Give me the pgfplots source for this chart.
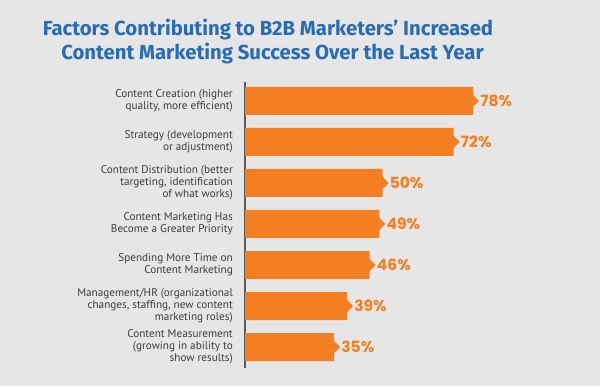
\documentclass[border=0pt]{standalone}
\usepackage{fontspec}
\setmainfont{PT Sans}
\newfontfamily\titlefont{Fira Sans}
\newfontfamily\valfont{Poppins}
\usepackage{pgfplots}
\pgfplotsset{compat=1.18}
\definecolor{bg}{RGB}{230,230,230}
\definecolor{barorange}{RGB}{244,127,35}
\definecolor{titleblue}{RGB}{40,108,180}
\definecolor{labelgray}{RGB}{60,60,60}
\pgfdeclareplotmark{tip}{%
  \pgfpathmoveto{\pgfpoint{-0.5pt}{6.5pt}}%
  \pgfpathlineto{\pgfpoint{6pt}{0pt}}%
  \pgfpathlineto{\pgfpoint{-0.5pt}{-6.5pt}}%
  \pgfpathclose\pgfusepathqfill}
\begin{document}
\begin{tikzpicture}[x=1pt,y=1pt]
\fill[bg] (0,0) rectangle (600,386);
\node[anchor=base, font=\titlefont\bfseries\fontsize{20.3}{24}\selectfont, text=titleblue, inner sep=0pt] at (268,350) {Factors Contributing to B2B Marketers’ Increased};
\node[anchor=base, font=\titlefont\bfseries\fontsize{20.3}{24}\selectfont, text=titleblue, inner sep=0pt] at (272.5,326) {Content Marketing Success Over the Last Year};
\begin{axis}[at={(245pt,18pt)}, anchor=south west, scale only axis,
  width=355pt, height=286pt,
  xmin=7.4, xmax=117.3, ymin=-0.46, ymax=6.51, y dir=reverse,
  axis x line=none, axis y line*=left,
  axis line style={draw=labelgray!85, line width=1.3pt},
  /pgf/number format/assume math mode=true,
  ytick={0,...,6},
  yticklabels={{Content Creation (higher\\quality, more efficient)},
    {Strategy (development\\or adjustment)},
    {Content Distribution (better\\targeting, identification\\of what works)},
    {Content Marketing Has\\Become a Greater Priority},
    {Spending More Time on\\Content Marketing},
    {Management/HR (organizational\\changes, staffing, new content\\marketing roles)},
    {Content Measurement\\(growing in ability to\\show results)}},
  major tick length=0pt,
  yticklabel style={align=right, font=\fontsize{11.2}{12}\selectfont, text=labelgray, inner sep=0pt, xshift=-12pt},
  clip=true]
\addplot[xbar, bar width=28pt, bar shift=0pt, fill=barorange, draw=none,
  point meta=x,
  nodes near coords={\pgfmathprintnumber[assume math mode=true]{\pgfplotspointmeta}\%},
  nodes near coords style={anchor=west, xshift=7pt, inner sep=0pt, font=\valfont\bfseries\fontsize{15.5}{16}\selectfont, text=barorange}]
  coordinates {(78,0) (72,1) (50,2) (49,3) (46,4) (39,5) (35,6)};
\addplot[only marks, mark=tip, mark options={fill=barorange, draw=none}]
  coordinates {(78,0) (72,1) (50,2) (49,3) (46,4) (39,5) (35,6)};
\end{axis}
\end{tikzpicture}
\end{document}
